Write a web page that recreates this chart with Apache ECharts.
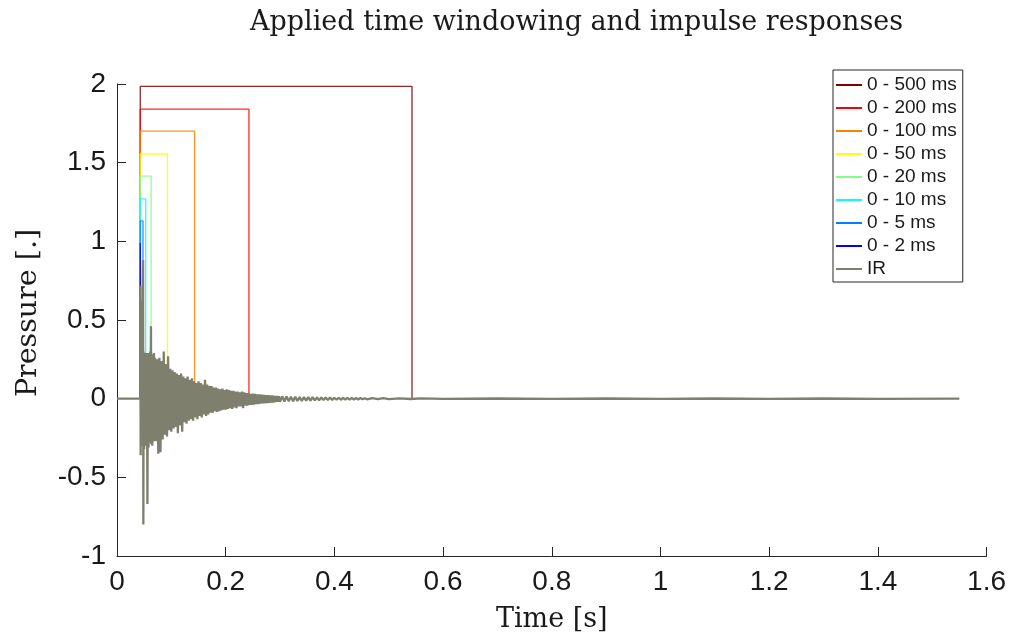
<!DOCTYPE html>
<html>
<head>
<meta charset="utf-8">
<script src="https://cdn.jsdelivr.net/npm/echarts@6/dist/echarts.min.js"></script>
<style>
html,body{margin:0;padding:0;background:#fff;}
#chart{width:1009px;height:638px;}
</style>
</head>
<body>
<div id="chart"></div>
<script>
// ---- data ----
const windowLabels = ['0 - 500 ms','0 - 200 ms','0 - 100 ms','0 - 50 ms','0 - 20 ms','0 - 10 ms','0 - 5 ms','0 - 2 ms'];
const windowLengthsMs = [500, 200, 100, 50, 20, 10, 5, 2];
const windowHeights = [1.985, 1.84, 1.70, 1.555, 1.415, 1.27, 1.13, 0.99];
const windowColors = ['#800000','#ff0000','#ff8000','#ffff00','#80ff80','#00ffff','#0080ff','#0000ff'];
const windowStartS = 0.0428;

const irLabel = 'IR';
const irTimeMs = [
  0, 42.8,
  43, 43.5, 44, 45, 46, 47, 48, 48.5, 49, 50, 51, 52, 53, 54, 55, 56, 57, 58, 59, 60, 61, 61.5, 62.5, 63, 64, 65, 66, 67, 68, 69, 70,
  72, 74, 76, 78, 80, 82, 84, 86, 88, 90, 92, 94, 96, 98, 100, 102, 104, 106, 108, 110,
  112, 114, 116, 118, 120, 122, 124, 126, 128, 130, 132, 134, 136, 138, 140, 142, 144, 146, 148, 150,
  152, 154, 156, 158, 160, 162, 164, 166, 168, 170, 172, 174, 176, 178, 180, 182, 184, 186, 188, 190,
  192, 194, 196, 198, 200, 202, 204, 206, 208, 210, 212, 214, 216, 218, 220, 222, 224, 226, 228, 230,
  232, 234, 236, 238, 240, 242, 244, 246, 248, 250, 252, 254, 256, 258, 260, 262, 264, 266, 268, 270,
  272, 274, 276, 278, 280, 282, 284, 286, 288, 290, 292, 294, 296, 298, 300,
  304, 308, 312, 316, 320, 324, 328, 332, 336, 340, 344, 348, 352, 356, 360, 364, 368, 372, 376, 380,
  384, 388, 392, 396, 400, 404, 408, 412, 416, 420, 424, 428, 432, 436, 440, 444, 448, 452, 456, 460,
  470, 480, 490, 500, 520, 540, 560, 600, 700, 800, 900, 1000, 1100, 1200, 1300, 1400, 1550
];
const irValue = [
  0, 0,
  0.72, -0.36, 0.55, -0.30, 0.62, -0.28, 0.88, -0.80, 0.30, -0.32, 0.28, -0.30, 0.29, -0.25, 0.27, -0.67, 0.29, -0.31, 0.26, -0.28, 0.30, -0.22, 0.46, -0.29, 0.27, -0.30, 0.28, -0.26, 0.29, -0.27, 0.26,
  -0.27, 0.25, -0.35, 0.26, -0.34, 0.24, -0.26, 0.30, -0.23, 0.22, -0.24, 0.27, -0.20, 0.19, -0.21, 0.18, -0.19, 0.17, -0.18, 0.16,
  -0.22, 0.15, -0.17, 0.16, -0.21, 0.14, -0.15, 0.13, -0.16, 0.14, -0.14, 0.12, -0.13, 0.13, -0.14, 0.11, -0.12, 0.10, -0.13, 0.11,
  -0.11, 0.10, -0.12, 0.09, -0.10, 0.12, -0.11, 0.09, -0.10, 0.08, -0.09, 0.08, -0.09, 0.07, -0.08, 0.07, -0.085, 0.065, -0.08, 0.06,
  -0.075, 0.065, -0.07, 0.055, -0.07, 0.06, -0.065, 0.055, -0.06, 0.05, -0.065, 0.05, -0.055, 0.045, -0.06, 0.045, -0.05, 0.04, -0.05, 0.045,
  -0.06, 0.04, -0.045, 0.035, -0.045, 0.035, -0.04, 0.03, -0.04, 0.032, -0.038, 0.03, -0.035, 0.028, -0.035, 0.027, -0.032, 0.025, -0.03, 0.024,
  -0.03, 0.022, -0.028, 0.022, -0.026, 0.02, -0.025, 0.02, -0.024, 0.018, -0.022, 0.018, -0.02, 0.016, -0.02,
  0.015, -0.018, 0.014, -0.017, 0.013, -0.016, 0.012, -0.015, 0.011, -0.014, 0.010, -0.013, 0.010, -0.012, 0.009, -0.011, 0.008, -0.010, 0.008, -0.009,
  0.007, -0.009, 0.007, -0.008, 0.006, -0.007, 0.006, -0.007, 0.005, -0.006, 0.005, -0.006, 0.004, -0.005, 0.004, -0.005, 0.004, -0.004, 0.003, -0.004,
  0.003, -0.003, 0.003, -0.003, 0.002, -0.002, 0.002, -0.001, 0.001, -0.001, 0.001, -0.001, 0.001, -0.001, 0.001, -0.001, 0
];
const irColor = '#7f7f6e';

const xTicks = {min: 0, max: 1.6, interval: 0.2};
const yTicks = {min: -1, max: 2, interval: 0.5};
const titleText = 'Applied time windowing and impulse responses';
const xName = 'Time [s]';
const yName = 'Pressure [.]';

// ---- build options ----
const series = windowLabels.map((name, i) => {
  const t1 = windowStartS + windowLengthsMs[i] / 1000;
  const h = windowHeights[i];
  return {
    name: name,
    type: 'line',
    showSymbol: false,
    symbol: 'none',
    animation: false,
    lineStyle: {color: windowColors[i], width: 1.3, opacity: 0.85},
    itemStyle: {color: windowColors[i]},
    data: [[windowStartS, 0], [windowStartS, h], [t1, h], [t1, 0]]
  };
});
series.push({
  name: irLabel,
  type: 'line',
  showSymbol: false,
  symbol: 'none',
  animation: false,
  lineStyle: {color: irColor, width: 2.3, join: 'bevel'},
  itemStyle: {color: irColor},
  data: irTimeMs.map((t, i) => [t / 1000, irValue[i]])
});

const axisColor = '#262626';
const chart = echarts.init(document.getElementById('chart'), null, {renderer: 'canvas'});
chart.setOption({
  backgroundColor: '#ffffff',
  animation: false,
  title: {
    text: titleText,
    left: 245, top: 4,
    textStyle: {fontFamily: 'DejaVu Serif', fontWeight: 'normal', fontSize: 27, color: '#1a1a1a'}
  },
  legend: {
    orient: 'vertical',
    left: 833, top: 70,
    padding: [5, 6, 3, 3],
    itemGap: 3,
    itemWidth: 26,
    itemHeight: 2,
    icon: 'rect',
    backgroundColor: '#ffffff',
    borderColor: axisColor,
    borderWidth: 1,
    borderRadius: 0,
    textStyle: {fontFamily: 'Liberation Sans', fontSize: 19, color: '#1a1a1a', lineHeight: 20},
    data: windowLabels.concat([irLabel])
  },
  grid: {left: 117, right: 22, top: 84, bottom: 80, containLabel: false},
  xAxis: {
    type: 'value',
    min: xTicks.min, max: xTicks.max, interval: xTicks.interval,
    name: xName, nameLocation: 'middle', nameGap: 50,
    nameTextStyle: {fontFamily: 'DejaVu Serif', fontSize: 27, color: '#1a1a1a'},
    axisLine: {show: true, onZero: false, lineStyle: {color: axisColor, width: 1}},
    axisTick: {show: true, inside: true, length: 9, lineStyle: {color: axisColor}},
    axisLabel: {fontFamily: 'Liberation Sans', fontSize: 28, color: '#1a1a1a', margin: 12,
      formatter: v => String(Math.round(v * 10) / 10)},
    splitLine: {show: false}
  },
  yAxis: {
    type: 'value',
    min: yTicks.min, max: yTicks.max, interval: yTicks.interval,
    name: yName, nameLocation: 'middle', nameGap: 74, nameRotate: 90,
    nameTextStyle: {fontFamily: 'DejaVu Serif', fontSize: 28.5, color: '#1a1a1a', padding: [0, 0, 0, 14]},
    axisLine: {show: true, onZero: false, lineStyle: {color: axisColor, width: 1}},
    axisTick: {show: true, inside: true, length: 9, lineStyle: {color: axisColor}},
    axisLabel: {fontFamily: 'Liberation Sans', fontSize: 28, color: '#1a1a1a', margin: 11,
      formatter: v => String(Math.round(v * 10) / 10)},
    splitLine: {show: false}
  },
  series: series
});
</script>
</body>
</html>
